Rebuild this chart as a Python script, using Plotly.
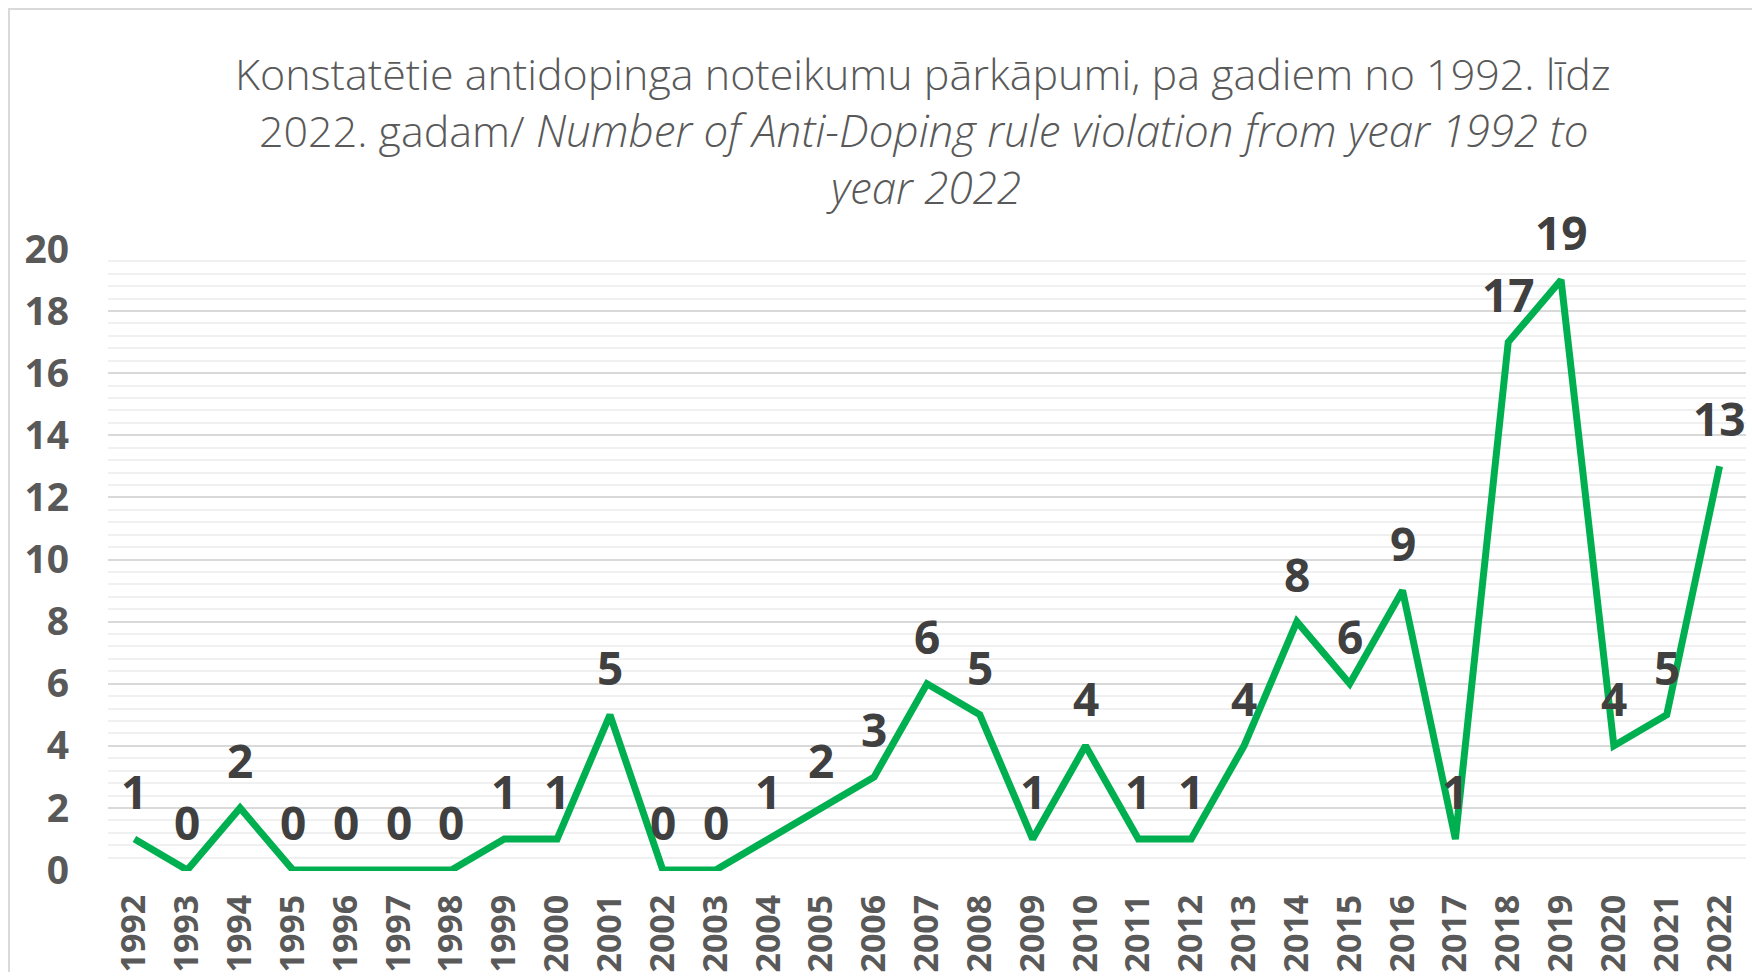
import plotly.graph_objects as go

years = [str(y) for y in range(1992, 2023)]
values = [1, 0, 2, 0, 0, 0, 0, 1, 1, 5, 0, 0, 1, 2, 3, 6, 5, 1, 4, 1, 1, 4, 8, 6, 9, 1, 17, 19, 4, 5, 13]
y_ticks = [0, 2, 4, 6, 8, 10, 12, 14, 16, 18, 20]

title_lines = [
    "Konstatētie antidopinga noteikumu pārkāpumi, pa gadiem no 1992. līdz",
    "2022. gadam/ <i><span style='font-size:44px'>Number of Anti-Doping rule violation from year 1992 to</span></i>",
    "<i><span style='font-size:44px'>year 2022</span></i>",
]

OFF = 8  # page body margin
W, H = 1760 - 2 * OFF, 980 - 2 * OFF
L = 108 - OFF
T = 248 - OFF
R = W - (1746 - OFF)
B = H - (871 - OFF)
ph = H - T - B
pw = W - L - R

fig = go.Figure()
fig.add_trace(go.Scatter(
    x=years, y=values, mode="lines",
    line=dict(color="#00B050", width=7),
    hoverinfo="x+y", showlegend=False,
))

annotations = []
for i, v in enumerate(values):
    annotations.append(dict(
        x=i, y=v, xref="x", yref="y", text=str(v), showarrow=False,
        yanchor="middle", xanchor="center", yshift=48,
        font=dict(family="Open Sans", size=46, color="#404040", weight="bold"),
    ))

line_px = [73, 130, 187]
for txt, py in zip(title_lines, line_px):
    annotations.append(dict(
        x=(923 - OFF - L) / pw, y=(H - B - (py - OFF)) / ph, xref="paper", yref="paper",
        text=txt, showarrow=False, xanchor="center", yanchor="middle",
        font=dict(family="Open Sans", size=43, color="#595959", weight=300),
    ))

fig.update_layout(
    width=W, height=H,
    margin=dict(l=L, r=R, t=T, b=B, pad=0, autoexpand=False),
    paper_bgcolor="white", plot_bgcolor="white",
    annotations=annotations,
    shapes=[dict(type="rect", xref="paper", yref="paper",
                 x0=(1 - L) / pw, x1=(W + 20 - L) / pw,
                 y0=(H - B - (H + 20)) / ph, y1=(H - B - 1) / ph,
                 line=dict(color="#d9d9d9", width=2), layer="below")],
)
fig.update_xaxes(
    type="category", range=[-0.5, 30.5], showgrid=False, zeroline=False,
    showline=False, tickangle=-90, ticks="", automargin=False,
    tickfont=dict(family="Open Sans", size=34, color="#595959", weight="bold"),
    ticklabelstandoff=16,
)
fig.update_yaxes(
    range=[-0.03, 20.03], tickvals=y_ticks, showgrid=True, gridcolor="#d9d9d9", gridwidth=1.5,
    zeroline=False, showline=False, ticks="", automargin=False,
    minor=dict(tick0=0, dtick=0.4, showgrid=True, gridcolor="#f0f0f0", gridwidth=1.5),
    tickfont=dict(family="Open Sans", size=39, color="#595959", weight="bold"),
    ticklabelstandoff=38,
)

fig.write_html("out.html")
